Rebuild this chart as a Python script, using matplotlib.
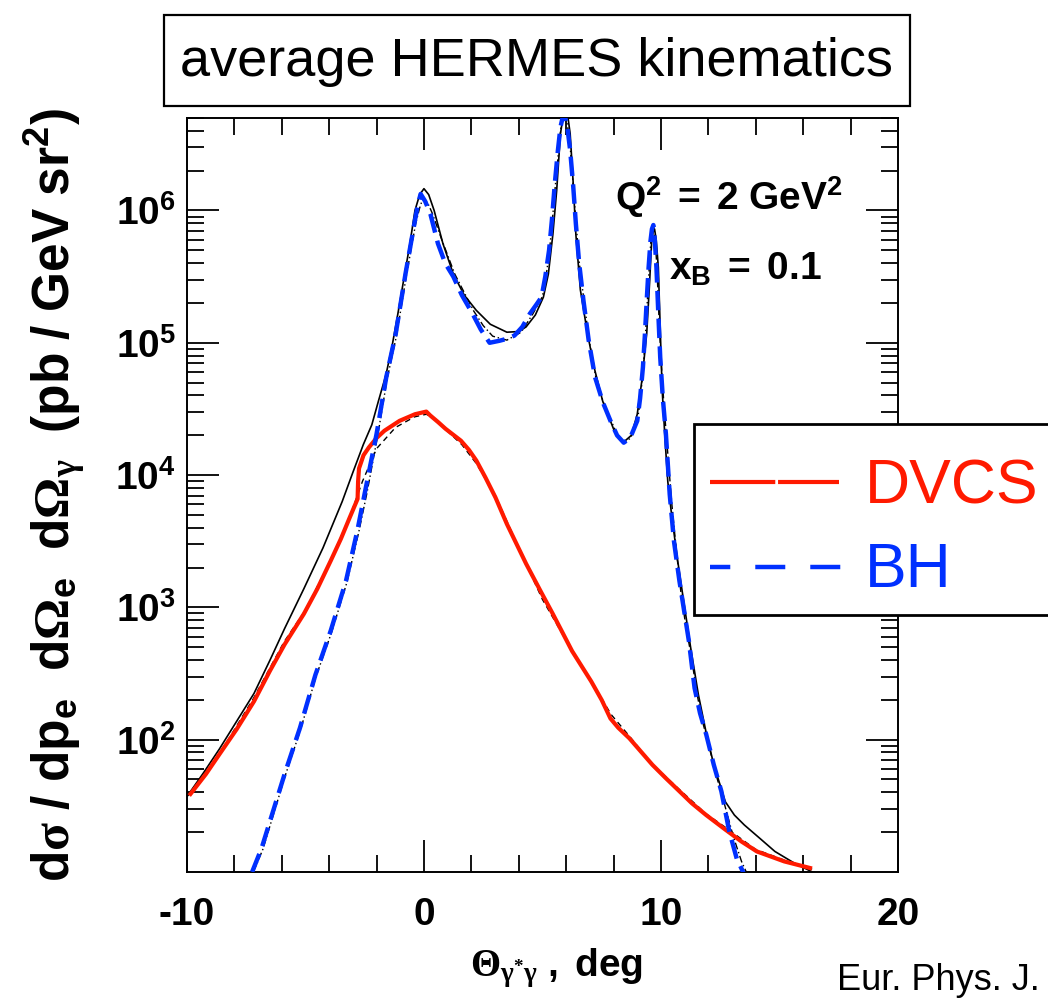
import numpy as np
import matplotlib
matplotlib.use('Agg')
import matplotlib.pyplot as plt
from matplotlib.ticker import FixedLocator, LogLocator, MultipleLocator, FuncFormatter, NullFormatter
from matplotlib.patches import Rectangle
from matplotlib.lines import Line2D

plt.rcParams['font.family'] = ['Liberation Sans', 'DejaVu Sans']
plt.rcParams['font.weight'] = 'bold'
plt.rcParams['mathtext.fontset'] = 'custom'
plt.rcParams['mathtext.rm'] = 'Liberation Serif'
plt.rcParams['mathtext.it'] = 'Liberation Serif:italic'
plt.rcParams['mathtext.bf'] = 'Liberation Sans:bold'
plt.rcParams['mathtext.sf'] = 'Liberation Sans'
plt.rcParams['axes.unicode_minus'] = False
plt.rcParams['lines.scale_dashes'] = False

# ── data (angle in deg, log10 of cross-section) ──
dvcs_x = [-9.85, -9.2, -8.63, -7.9, -7.17, -6.5, -5.88, -5.07, -4.5, -3.94, -3.5, -3.13,
          -2.80, -2.78, -2.74, -2.55, -2.32, -2.0, -1.67, -1.03, -0.38, 0.10, 0.27, 0.6,
          0.91, 1.56, 1.9, 2.21, 2.6, 3.02, 3.50, 4.31, 4.9, 5.44, 6.25, 7.06, 7.5, 7.87,
          8.2, 8.67, 9.64, 10.2, 10.78, 11.3, 11.91, 12.72, 13.4, 14.05, 15.20, 16.29]
dvcs_log = [1.59, 1.74, 1.89, 2.08, 2.29, 2.52, 2.72, 2.95, 3.14, 3.35, 3.52, 3.68,
            3.82, 3.95, 4.05, 4.15, 4.21, 4.28, 4.335, 4.41, 4.46, 4.48, 4.45, 4.40,
            4.35, 4.26, 4.19, 4.11, 3.98, 3.83, 3.63, 3.33, 3.13, 2.95, 2.67, 2.44, 2.30, 2.16,
            2.09, 2.01, 1.81, 1.71, 1.61, 1.52, 1.43, 1.32, 1.23, 1.155, 1.08, 1.03]

dvcs2_x = [-10.0, -8.6, -7.2, -5.9, -5.0, -3.9, -3.1, -2.6, -2.0, -1.2, -0.4, 0.1, 0.5,
           1.0, 1.6, 2.2, 3.0, 4.0, 5.0, 6.0, 7.0, 7.9, 8.7, 9.6, 10.8, 11.9, 12.7, 14.0,
           15.2, 16.4]
dvcs2_log = [1.57, 1.90, 2.31, 2.74, 2.98, 3.37, 3.70, 3.95, 4.20, 4.36, 4.44, 4.46, 4.42,
             4.33, 4.23, 4.09, 3.85, 3.45, 3.06, 2.75, 2.46, 2.19, 2.02, 1.82, 1.62, 1.44,
             1.34, 1.17, 1.09, 1.02]

bh_x = [-7.25, -6.85, -5.88, -5.23, -4.58, -3.94, -3.29, -2.81, -2.48, -2.00, -1.59,
        -1.19, -0.78, -0.38, -0.25, -0.14, 0.05, 0.27, 0.59, 0.9, 1.24, 1.6, 2.05, 2.4,
        2.77, 3.18, 3.5, 3.82, 4.15, 4.47, 4.75, 4.96, 5.12, 5.28, 5.4, 5.52, 5.65, 5.76,
        5.86, 5.93, 6.05, 6.17, 6.3, 6.41, 6.55, 6.73, 6.95, 7.22, 7.55, 7.87, 8.15, 8.43,
        8.7, 9.00, 9.12, 9.24, 9.32, 9.40, 9.48, 9.56, 9.62, 9.68, 9.74, 9.81, 9.89, 9.97,
        10.08, 10.21, 10.37, 10.55, 10.78, 11.0, 11.18, 11.42, 11.65, 11.91, 12.23, 12.55,
        12.88, 13.20, 13.60]
bh_log = [1.00, 1.18, 1.74, 2.09, 2.49, 2.82, 3.20, 3.58, 3.88, 4.31, 4.74,
          5.07, 5.52, 5.925, 6.05, 6.125, 6.07, 5.975, 5.75, 5.60, 5.50, 5.36, 5.22, 5.10,
          5.00, 5.015, 5.03, 5.055, 5.12, 5.22, 5.29, 5.345, 5.50, 5.70, 5.93, 6.20, 6.45, 6.63,
          6.71, 6.73, 6.63, 6.455, 6.18, 5.90, 5.60, 5.32, 5.02, 4.74, 4.55, 4.41, 4.30, 4.245,
          4.28, 4.41, 4.58, 4.815, 5.05, 5.32, 5.57, 5.77, 5.86, 5.89, 5.78, 5.57, 5.22, 4.89,
          4.58, 4.31, 3.855, 3.50, 3.20, 2.95, 2.745, 2.39, 2.20, 2.04, 1.81, 1.61,
          1.31, 1.10, 0.95]

bh2_x = [-7.20, -6.80, -5.85, -5.20, -4.55, -3.90, -3.25, -2.75, -2.40, -1.95, -1.55,
         -1.15, -0.75, -0.35, -0.18, -0.05, 0.15, 0.35, 0.75, 1.30, 1.7, 2.10, 2.5, 2.90,
         3.50, 4.10, 4.60, 5.00, 5.15, 5.30, 5.42, 5.55, 5.68, 5.78, 5.88, 5.95, 6.06, 6.18,
         6.3, 6.42, 6.56, 6.75, 6.97, 7.25, 7.57, 7.90, 8.17, 8.45, 8.72, 9.00, 9.13, 9.25,
         9.34, 9.42, 9.50, 9.57, 9.64, 9.70, 9.76, 9.83, 9.91, 10.00, 10.12, 10.25, 10.45,
         10.65, 10.85, 11.05, 11.25, 11.55, 11.75, 12.00, 12.35, 12.70, 13.05, 13.40, 13.80]
bh2_log = [1.00, 1.17, 1.73, 2.08, 2.48, 2.81, 3.19, 3.57, 3.87, 4.30, 4.73,
           5.06, 5.50, 5.90, 6.02, 6.09, 6.06, 5.98, 5.78, 5.52, 5.38, 5.24, 5.13, 5.05,
           5.02, 5.08, 5.22, 5.35, 5.50, 5.70, 5.93, 6.20, 6.45, 6.63, 6.71, 6.74, 6.64, 6.46,
           6.18, 5.90, 5.60, 5.32, 5.02, 4.74, 4.55, 4.41, 4.30, 4.245, 4.28, 4.40, 4.57, 4.80,
           5.04, 5.30, 5.55, 5.76, 5.85, 5.87, 5.77, 5.57, 5.22, 4.88, 4.55, 4.25, 3.80,
           3.43, 3.10, 2.86, 2.66, 2.32, 2.14, 1.97, 1.72, 1.50, 1.27, 1.08, 0.92]

tot_x = [-10.0, -9.3, -8.63, -7.9, -7.17, -6.5, -5.88, -5.07, -4.26, -3.45, -3.0, -2.56,
         -2.2, -1.92, -1.6, -1.35, -1.1, -0.86, -0.6, -0.38, -0.18, 0.0, 0.2, 0.43, 0.8,
         1.24, 1.7, 2.21, 2.8, 3.5, 4.0, 4.31, 4.7, 5.04, 5.25, 5.44, 5.6, 5.76, 5.88, 5.96,
         6.05, 6.17, 6.3, 6.41, 6.6, 6.9, 7.2, 7.54, 8.03, 8.43, 8.75, 9.0, 9.2, 9.4, 9.52,
         9.61, 9.68, 9.73, 9.8, 9.89, 10.05, 10.18, 10.29, 10.45, 10.7, 10.94, 11.25, 11.58,
         11.9, 12.23, 12.72, 13.1, 13.52, 14.2, 14.81, 15.6, 16.5]
tot_log = [1.57, 1.75, 1.93, 2.14, 2.35, 2.60, 2.84, 3.14, 3.45, 3.80, 4.02, 4.23,
           4.38, 4.56, 4.76, 4.97, 5.22, 5.47, 5.74, 6.00, 6.12, 6.165, 6.12, 6.00, 5.75,
           5.52, 5.36, 5.245, 5.14, 5.08, 5.085, 5.12, 5.21, 5.345, 5.52, 5.82, 6.15, 6.58, 6.72,
           6.76, 6.74, 6.58, 6.20, 5.82, 5.40, 5.07, 4.80, 4.56, 4.335, 4.25, 4.30, 4.46, 4.72,
           5.07, 5.45, 5.77, 5.85, 5.86, 5.78, 5.57, 4.65, 4.25, 3.95, 3.70, 3.36, 3.07, 2.70,
           2.34, 2.06, 1.81, 1.53, 1.43, 1.355, 1.25, 1.155, 1.07, 0.99]

y_ticks = [1e2, 1e3, 1e4, 1e5, 1e6]
x_ticks = [-10, 0, 10, 20]

RED = '#ff1a00'
BLUE = '#0030ff'

fig = plt.figure(figsize=(10.48, 10.01), dpi=100)
ax = fig.add_axes([0.1784, 0.1289, 0.6784, 0.7532])

ax.plot(dvcs2_x, 10 ** np.array(dvcs2_log), color='black', lw=1.0,
        linestyle=(0, (4, 3)), zorder=2)
ax.plot(bh2_x, 10 ** np.array(bh2_log), color='black', lw=1.0,
        linestyle=(0, (5, 2, 1, 2)), zorder=2)
ax.plot(tot_x, 10 ** np.array(tot_log), color='black', lw=1.2, zorder=3)
ax.plot(dvcs_x, 10 ** np.array(dvcs_log), color=RED, lw=3.0, zorder=4)
ax.plot(bh_x, 10 ** np.array(bh_log), color=BLUE, lw=3.2,
        linestyle=(0, (14, 6)), zorder=5)

ax.set_xlim(-10, 20)
ax.set_yscale('log')
ax.set_ylim(10, 5e6)

ax.xaxis.set_major_locator(FixedLocator(x_ticks))
ax.xaxis.set_minor_locator(MultipleLocator(2))
ax.yaxis.set_major_locator(FixedLocator(y_ticks))
ax.yaxis.set_minor_locator(LogLocator(base=10, subs=np.arange(2, 10), numticks=20))
ax.yaxis.set_minor_formatter(NullFormatter())
ax.yaxis.set_major_formatter(FuncFormatter(
    lambda v, p: r'$\mathbf{10^{%d}}$' % round(np.log10(v))))

ax.tick_params(which='both', direction='in', top=True, right=True, width=1.3)
ax.tick_params(which='major', length=23)
ax.tick_params(which='minor', length=12)
ax.tick_params(axis='x', which='major', labelsize=28, pad=18)
ax.tick_params(axis='y', which='major', labelsize=28, pad=8)
for s in ax.spines.values():
    s.set_linewidth(1.4)

ax.set_ylabel(r'$\mathbf{d}\mathrm{\sigma}\mathbf{\ /\ dp_{e}\ \ d}\mathrm{\Omega}_{\mathbf{e}}'
              r'\mathbf{\ \ d}\mathrm{\Omega}_{\mathrm{\gamma}}\mathbf{\ \ (pb\ /\ GeV\ sr^{2})}$',
              fontsize=37)
ax.yaxis.set_label_coords(-0.1857, 0.5)
ax.yaxis.label.set_va('center')

ax.set_xlabel(r'$\mathrm{\Theta}_{\mathrm{\gamma^{*}\gamma}}\mathbf{\ ,\ deg}$', fontsize=28)
ax.xaxis.set_label_coords(0.519, -0.1273)
ax.xaxis.label.set_va('center')

# title box
fig.patches.append(Rectangle((0.1565, 0.8941), 0.7118, 0.0909, transform=fig.transFigure,
                             fill=False, lw=1.6, ec='black'))
fig.text(0.5124, 0.938, 'average HERMES kinematics', fontsize=39, weight='normal',
         ha='center', va='center')

# kinematics text
fig.text(0.587, 0.790, r'$\mathbf{Q^{2}\ =\ 2\ GeV^{2}}$', fontsize=28)
fig.text(0.638, 0.7203, r'$\mathbf{x_{B}\ =\ 0.1}$', fontsize=28)

# legend drawn by hand (box runs off the right edge)
fig.patches.append(Rectangle((0.6622, 0.3856), 0.36, 0.1908, transform=fig.transFigure,
                             facecolor='white', edgecolor='black', lw=2.0, zorder=10))
fig.add_artist(Line2D([0.6775, 0.8006], [0.5185, 0.5185], transform=fig.transFigure,
                      color=RED, lw=3.0, linestyle=(0, (47, 2)), zorder=11))
fig.add_artist(Line2D([0.6775, 0.8025], [0.4336, 0.4336], transform=fig.transFigure,
                      color=BLUE, lw=3.2, linestyle=(7, (21.6, 18)), zorder=11))
fig.text(0.8254, 0.4975, 'DVCS', color=RED, fontsize=45, weight='normal', zorder=12)
fig.text(0.8254, 0.4136, 'BH', color=BLUE, fontsize=45, weight='normal', zorder=12)

fig.text(0.7987, 0.011, 'Eur. Phys. J.', fontsize=26, weight='normal')

fig.savefig('out.png', dpi=100)
